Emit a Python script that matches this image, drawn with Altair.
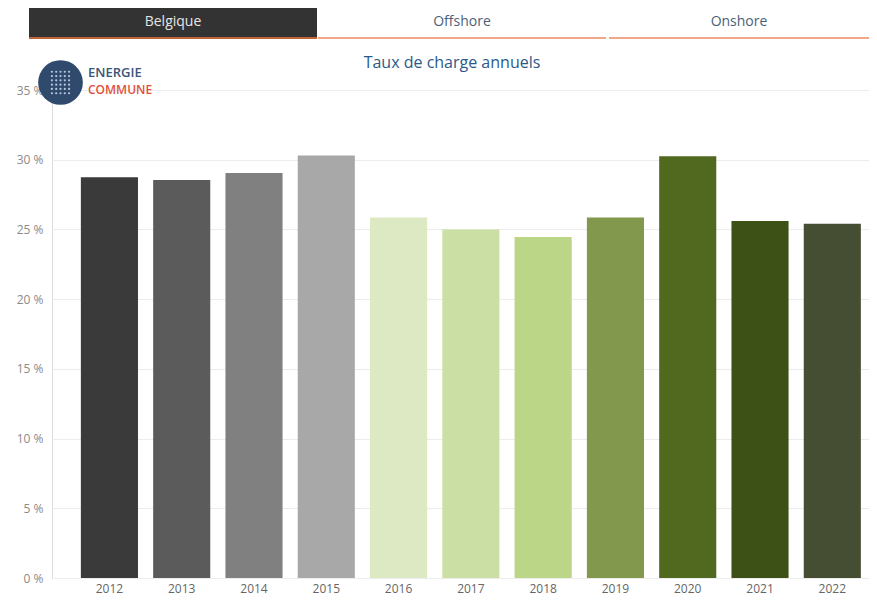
import altair as alt
import pandas as pd

years = ["2012", "2013", "2014", "2015", "2016", "2017", "2018", "2019", "2020", "2021", "2022"]
rates = [28.75, 28.55, 29.05, 30.3, 25.85, 25.0, 24.45, 25.85, 30.25, 25.6, 25.4]
colors = ["#3a3a3a", "#5b5b5b", "#808080", "#a8a8a8", "#dce9c2", "#cbdea4",
          "#bcd688", "#82984c", "#50691f", "#3d5016", "#454d33"]
y_ticks = [0, 5, 10, 15, 20, 25, 30, 35]
tabs = ["Belgique", "Offshore", "Onshore"]
title_text = "Taux de charge annuels"
logo_words = ["ENERGIE", "COMMUNE"]

FONT = "Open Sans"
W, H = 817, 488

df = pd.DataFrame({"year": years, "rate": rates})

bars = alt.Chart(df).mark_bar().encode(
    x=alt.X("year:N", sort=years,
            scale=alt.Scale(paddingInner=0.21, paddingOuter=0.256, align=0.78),
            axis=alt.Axis(title=None, labelAngle=0, domain=False, ticks=False,
                          labelColor="#666666", labelFontSize=12, labelFont=FONT,
                          labelPadding=5)),
    y=alt.Y("rate:Q", scale=alt.Scale(domain=[0, 35], nice=False),
            axis=alt.Axis(title=None, values=y_ticks, labelExpr="datum.value + ' %'",
                          domain=False, ticks=False, grid=True, gridColor="#ececec",
                          labelColor="#8a8a8a", labelFontSize=12, labelFont=FONT,
                          labelPadding=9)),
    color=alt.Color("year:N", sort=years, scale=alt.Scale(domain=years, range=colors),
                    legend=None),
)

# header tabs
tab_x = [-23, 266, 557]
tab_x2 = [265, 554, 817]
tab_bg = alt.Chart(pd.DataFrame({"t": [tabs[0]]})).mark_rect(color="#333333").encode(
    x=alt.value(tab_x[0]), x2=alt.value(tab_x2[0]), y=alt.value(-82), y2=alt.value(-53))

lines = []
for i, t in enumerate(tabs):
    col = "#c0643c" if i == 0 else "#f0a888"
    lines.append(alt.Chart(pd.DataFrame({"t": [t]})).mark_rule(color=col, strokeWidth=2).encode(
        x=alt.value(tab_x[i]), x2=alt.value(tab_x2[i]), y=alt.value(-52)))

texts = []
for i, t in enumerate(tabs):
    col = "#e6e6e6" if i == 0 else "#4a5f7a"
    cx = (tab_x[i] + tab_x2[i]) / 2
    texts.append(alt.Chart(pd.DataFrame({"t": [t]})).mark_text(
        font=FONT, fontSize=14, color=col, baseline="middle", align="center").encode(
        x=alt.value(cx), y=alt.value(-68), text="t:N"))

title = alt.Chart(pd.DataFrame({"t": [title_text]})).mark_text(
    font=FONT, fontSize=16, color="#2b5a8a", baseline="middle", align="center").encode(
    x=alt.value(400), y=alt.value(-27), text="t:N")

# logo
logo_circle = alt.Chart(pd.DataFrame({"t": ["logo"]})).mark_point(
    shape="circle", filled=True, color="#2f4a6d", opacity=1, size=2000).encode(
    x=alt.value(8.5), y=alt.value(-7.5))

dot_layers = []
for r in range(6):
    for c in range(5):
        dot_layers.append(alt.Chart(pd.DataFrame({"t": ["d"]})).mark_point(
            shape="circle", filled=True, color="#b8c8dc", opacity=1, size=5).encode(
            x=alt.value(8.5 + (c - 2) * 4.3), y=alt.value(-7.5 + (r - 2.5) * 4.3)))

w1 = alt.Chart(pd.DataFrame({"t": [logo_words[0]]})).mark_text(
    font=FONT, fontSize=13, color="#3a5576", baseline="middle", align="left", fontWeight=600).encode(
    x=alt.value(36), y=alt.value(-17), text="t:N")
w2 = alt.Chart(pd.DataFrame({"t": [logo_words[1]]})).mark_text(
    font=FONT, fontSize=12, color="#e0503c", baseline="middle", align="left", fontWeight=600).encode(
    x=alt.value(36), y=alt.value(0), text="t:N")

chart = alt.layer(bars, tab_bg, *lines, *texts, title, logo_circle, *dot_layers, w1, w2).properties(
    width=W, height=H,
    autosize=alt.AutoSizeParams(type="none"),
    padding={"left": 44, "top": 82, "right": 0, "bottom": 19},
).configure_view(stroke=None).configure(background="white")

chart.save("out.html", embed_options={"renderer": "svg", "actions": False})
